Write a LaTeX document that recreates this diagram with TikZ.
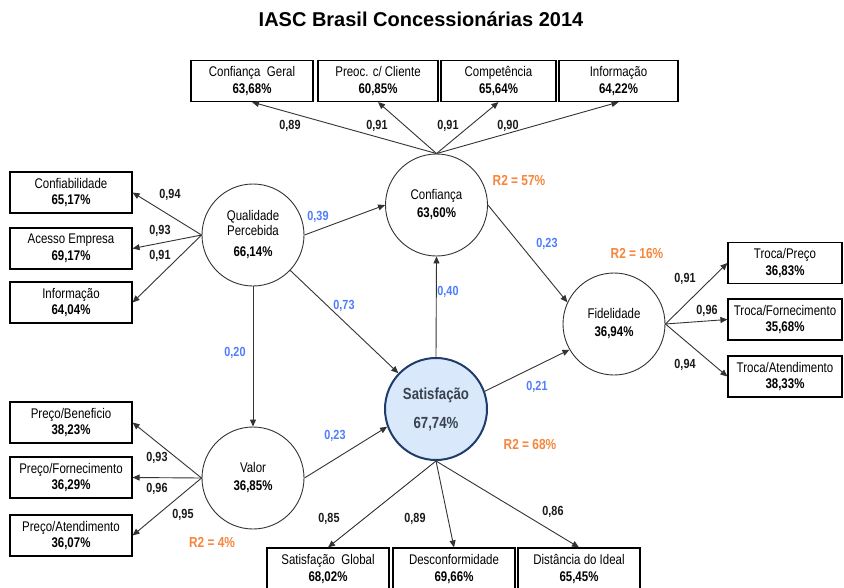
\documentclass[tikz,border=0pt]{standalone}
\usepackage{fontspec}
\setmainfont[FakeStretch=0.82]{Liberation Sans}
\newfontfamily\titulofonte{Liberation Sans}
\usetikzlibrary{arrows.meta}

\definecolor{linha}{HTML}{333333}
\definecolor{azul}{HTML}{4D7CFE}
\definecolor{laranja}{HTML}{F7863C}
\definecolor{satfill}{HTML}{D9E8FB}
\definecolor{satdraw}{HTML}{1F3D6B}
\definecolor{sattext}{HTML}{3A4250}

\tikzset{
	caixa/.style={draw=black,line width=1.2pt,rectangle,minimum width=122pt,minimum height=41pt,inner sep=1pt,align=center,font=\fontsize{14}{16.5}\selectfont},
	construto/.style={draw=linha,line width=0.9pt,circle,minimum size=102pt,inner sep=0pt,align=center,font=\fontsize{14}{15}\selectfont},
	seta/.style={-{Triangle[length=7pt,width=6pt]},draw=linha,line width=0.9pt},
	carga/.style={font=\fontsize{13.2}{14}\selectfont\bfseries,text=black!90},
	coef/.style={font=\fontsize{13.2}{14}\selectfont\bfseries,text=azul},
	rdois/.style={font=\fontsize{14.5}{15}\selectfont\bfseries,text=laranja}
}

\begin{document}
\begin{tikzpicture}[x=1pt,y=-1pt]
	\clip (0,0) rectangle (844,587);
	\fill[white] (0,0) rectangle (844,587);
	\node[font=\titulofonte\fontsize{20}{21}\selectfont\bfseries] at (421,19) (titulo) {IASC Brasil Concessionárias 2014};

	% construtos
	\node[construto] at (436.5,205) (conf) {Confiança\\[3pt]\textbf{63,60\%}};
	\node[construto] at (253,235) (qp) {Qualidade\\Percebida\\[6pt]\textbf{66,14\%}};
	\node[construto] at (253,478) (valor) {Valor\\[3pt]\textbf{36,85\%}};
	\node[construto] at (614,324) (fid) {Fidelidade\\[3pt]\textbf{36,94\%}};
	\node[construto,fill=satfill,draw=satdraw,line width=2pt,text=sattext,font=\fontsize{16.1}{17}\selectfont\bfseries] at (436,409) (sat) {Satisfação\\[12pt]67,74\%};

	% indicadores
	\node[caixa] at (252,81) (cg) {Confiança\ \ Geral\\\textbf{63,68\%}};
	\node[caixa,minimum width=120pt] at (378,81) (pc) {Preoc. c/ Cliente\\\textbf{60,85\%}};
	\node[caixa,minimum width=115pt] at (498.5,81) (comp) {Competência\\\textbf{65,64\%}};
	\node[caixa,minimum width=119pt] at (618.5,81) (info) {Informação\\\textbf{64,22\%}};

	\node[caixa] at (71,192.5) (confi) {Confiabilidade\\\textbf{65,17\%}};
	\node[caixa] at (71,248.5) (acesso) {Acesso Empresa\\\textbf{69,17\%}};
	\node[caixa] at (71,302.5) (infq) {Informação\\\textbf{64,04\%}};

	\node[caixa] at (71,422.5) (pben) {Preço/Beneficio\\\textbf{38,23\%}};
	\node[caixa] at (71,477.5) (pforn) {Preço/Fornecimento\\\textbf{36,29\%}};
	\node[caixa] at (71,535.5) (pate) {Preço/Atendimento\\\textbf{36,07\%}};

	\node[caixa,minimum width=114pt] at (785,263) (tpreco) {Troca/Preço\\\textbf{36,83\%}};
	\node[caixa,minimum width=114pt] at (785,319.5) (tforn) {Troca/Fornecimento\\\textbf{35,68\%}};
	\node[caixa,minimum width=114pt] at (785,376.5) (tate) {Troca/Atendimento\\\textbf{38,33\%}};

	\node[caixa,minimum height=42pt] at (328,569) (sglob) {Satisfação\ \ Global\\\textbf{68,02\%}};
	\node[caixa,minimum height=42pt] at (454,569) (descf) {Desconformidade\\\textbf{69,66\%}};
	\node[caixa,minimum height=42pt] at (579,569) (dist) {Distância do Ideal\\\textbf{65,45\%}};

	% modelo estrutural
	\draw[seta] (qp.east) -- (conf.west);
	\draw[seta] (qp) -- (sat);
	\draw[seta] (qp.south) -- (valor.north);
	\draw[seta] (valor.east) -- (sat.200);
	\draw[seta] (sat.north) -- (conf.south);
	\draw[seta] (conf.east) -- (fid.155);
	\draw[seta] (sat.20) -- (fid.210);

	% cargas
	\foreach \c in {cg,pc,comp,info}
		\draw[seta] (conf.north) -- (\c.south);
	\foreach \c in {confi,acesso,infq}
		\draw[seta] (qp.west) -- (\c.east);
	\foreach \c in {pben,pforn,pate}
		\draw[seta] (valor.west) -- (\c.east);
	\foreach \c in {tpreco,tforn,tate}
		\draw[seta] (fid.east) -- (\c.west);
	\foreach \c in {sglob,descf,dist}
		\draw[seta] (sat.south) -- (\c.north);

	\node[carga] at (290,126) (l1) {0,89};
	\node[carga] at (377,126) (l2) {0,91};
	\node[carga] at (448,126) (l3) {0,91};
	\node[carga] at (508,126) (l4) {0,90};
	\node[carga] at (170,195) (l5) {0,94};
	\node[carga] at (160,231) (l6) {0,93};
	\node[carga] at (160,256) (l7) {0,91};
	\node[carga] at (157,458) (l8) {0,93};
	\node[carga] at (157,489) (l9) {0,96};
	\node[carga] at (183,515) (l10) {0,95};
	\node[carga] at (685,279) (l11) {0,91};
	\node[carga] at (707,311) (l12) {0,96};
	\node[carga] at (685,365) (l13) {0,94};
	\node[carga] at (329,519) (l14) {0,85};
	\node[carga] at (415,519) (l15) {0,89};
	\node[carga] at (553,512) (l16) {0,86};

	\node[coef] at (318,217) (b1) {0,39};
	\node[coef] at (344,306) (b2) {0,73};
	\node[coef] at (235,353) (b3) {0,20};
	\node[coef] at (335,436) (b4) {0,23};
	\node[coef] at (448,292) (b5) {0,40};
	\node[coef] at (547,244) (b6) {0,23};
	\node[coef] at (537,387) (b7) {0,21};

	\node[rdois] at (519,181) (r1) {R2 = 57\%};
	\node[rdois] at (637,254) (r2) {R2 = 16\%};
	\node[rdois] at (530,445) (r3) {R2 = 68\%};
	\node[rdois] at (212,542) (r4) {R2 = 4\%};
\end{tikzpicture}
\end{document}
